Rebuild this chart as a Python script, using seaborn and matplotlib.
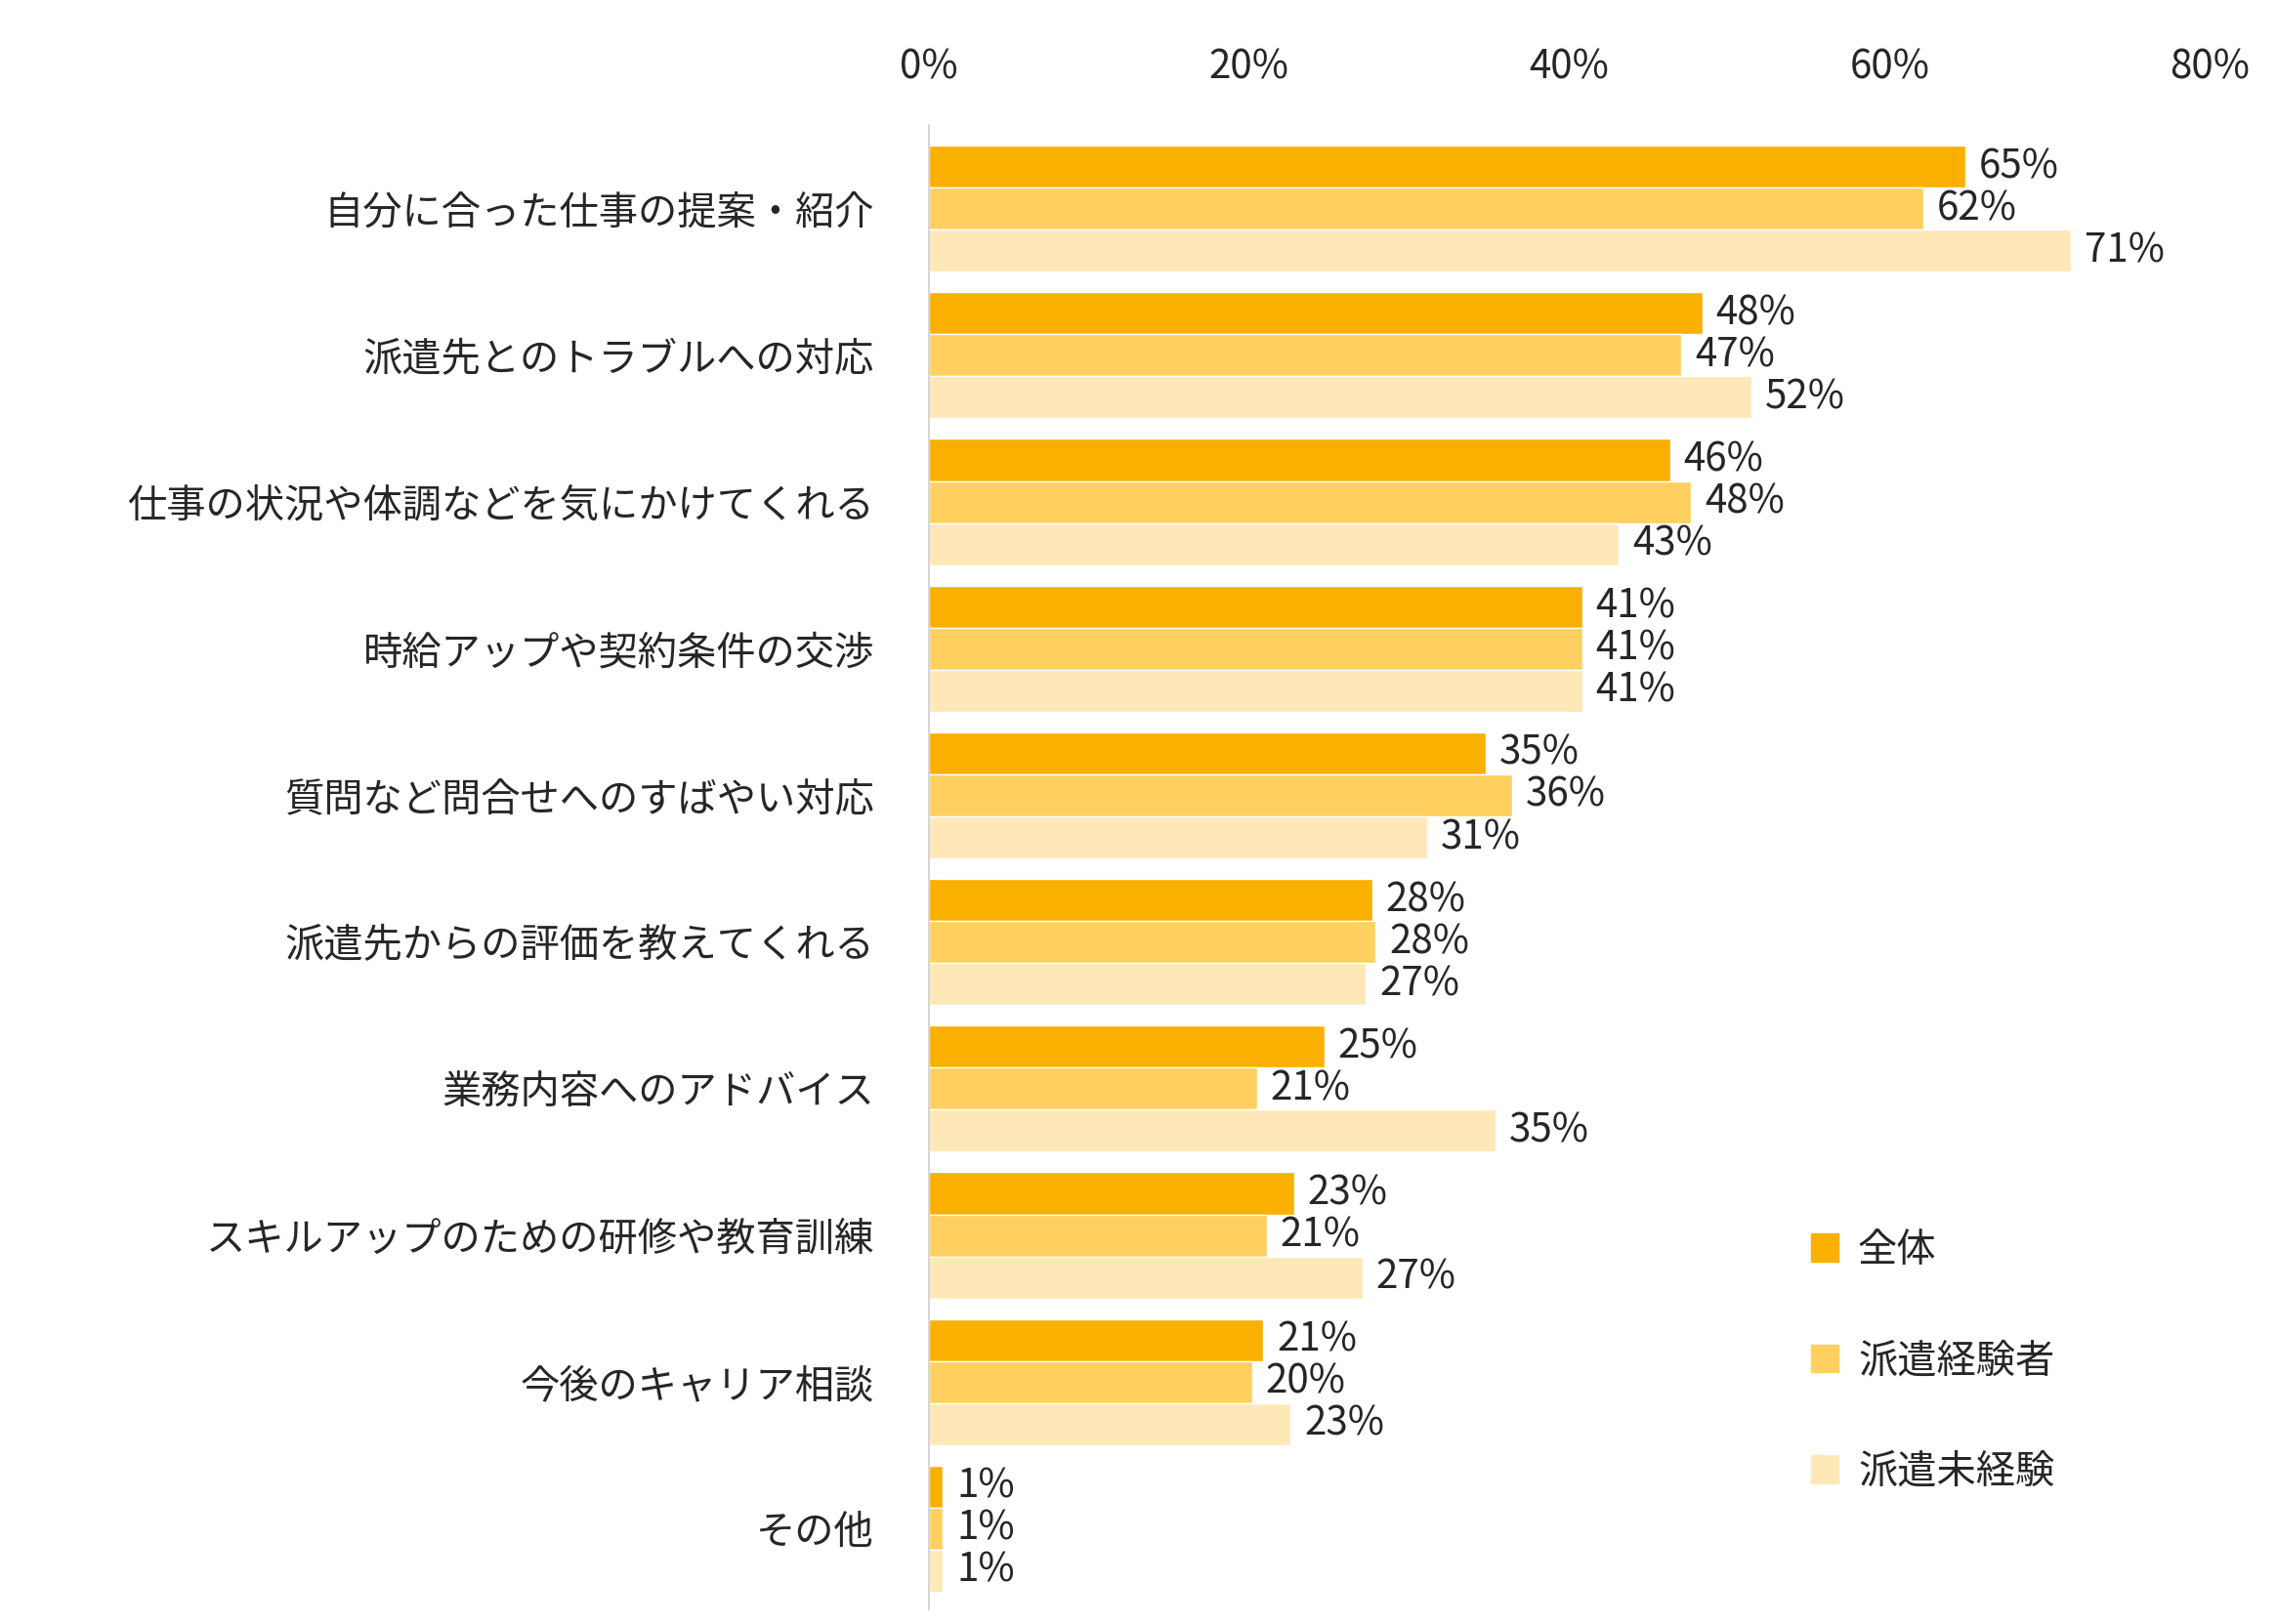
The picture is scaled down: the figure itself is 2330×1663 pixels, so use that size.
import pandas as pd
import matplotlib.pyplot as plt
import seaborn as sns

categories = ['自分に合った仕事の提案・紹介', '派遣先とのトラブルへの対応', '仕事の状況や体調などを気にかけてくれる',
              '時給アップや契約条件の交渉', '質問など問合せへのすばやい対応', '派遣先からの評価を教えてくれる',
              '業務内容へのアドバイス', 'スキルアップのための研修や教育訓練', '今後のキャリア相談', 'その他']
series = ['全体', '派遣経験者', '派遣未経験']
zentai = [64.7, 48.3, 46.3, 40.8, 34.8, 27.7, 24.7, 22.8, 20.9, 0.9]
keiken = [62.1, 47.0, 47.6, 40.8, 36.4, 27.9, 20.5, 21.1, 20.2, 0.9]
mikeiken = [71.3, 51.4, 43.1, 40.8, 31.1, 27.3, 35.4, 27.1, 22.6, 0.9]
zentai_lbl = [65, 48, 46, 41, 35, 28, 25, 23, 21, 1]
keiken_lbl = [62, 47, 48, 41, 36, 28, 21, 21, 20, 1]
mikeiken_lbl = [71, 52, 43, 41, 31, 27, 35, 27, 23, 1]
colors = ['#F9B000', '#FFD060', '#FFE8B8']

rows = []
for name, vals in zip(series, [zentai, keiken, mikeiken]):
    for c, v in zip(categories, vals):
        rows.append({'cat': c, 'group': name, 'value': v})
df = pd.DataFrame(rows)

sns.set_theme(style='white')
plt.rcParams['font.family'] = ['Noto Sans CJK JP', 'DejaVu Sans']

fig = plt.figure(figsize=(23.3, 16.63), dpi=100)
ax = fig.add_axes([0.408, 0.009, 0.563, 0.914])
sns.barplot(data=df, y='cat', x='value', hue='group', order=categories, hue_order=series,
            palette=colors, width=0.86, saturation=1, ax=ax, legend=False)

for cont, lbls in zip(ax.containers, [zentai_lbl, keiken_lbl, mikeiken_lbl]):
    ax.bar_label(cont, labels=[f'{v}%' for v in lbls], padding=10, fontsize=29)

ax.set_xlim(0, 80)
ax.set_ylim(len(categories) - 0.5 + 0.05, -0.5 - 0.07)
ax.xaxis.tick_top()
ax.set_xticks(range(0, 81, 20))
ax.set_xticklabels([f'{t}%' for t in range(0, 81, 20)], fontsize=29)
ax.tick_params(axis='x', length=0, pad=28)
ax.tick_params(axis='y', length=0, labelsize=29, pad=40)
ax.set_xlabel('')
ax.set_ylabel('')
for s in ['top', 'right', 'bottom']:
    ax.spines[s].set_visible(False)
ax.spines['left'].set_color('#D0D0D0')

handles = [plt.Rectangle((0, 0), 1, 1, color=c) for c in colors]
fig.legend(handles, series, loc='center left', bbox_to_anchor=(0.78, 0.162), frameon=False,
           fontsize=29, handlelength=0.7, handleheight=0.7, labelspacing=1.8, handletextpad=0.5)

plt.savefig('out.png')
plt.close()
